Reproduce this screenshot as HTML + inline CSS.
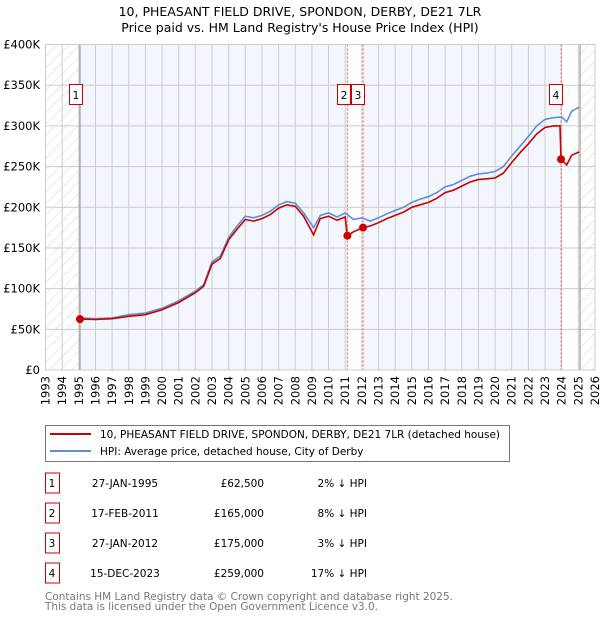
<!DOCTYPE html>
<html><head><meta charset="utf-8"><style>
body{margin:0;background:#fff;width:600px;height:620px;overflow:hidden;font-family:"DejaVu Sans","Liberation Sans",sans-serif;}
svg text{font-family:"DejaVu Sans","Liberation Sans",sans-serif;}
</style></head><body>
<svg id="chart" width="600" height="620" xmlns="http://www.w3.org/2000/svg">
<defs><pattern id="hatch" width="8" height="8" patternUnits="userSpaceOnUse" patternTransform="rotate(45)"><line x1="0" y1="0" x2="0" y2="8" stroke="#d4d4d4" stroke-width="1"/></pattern></defs>
<text x="300" y="16" text-anchor="middle" font-size="12.5">10, PHEASANT FIELD DRIVE, SPONDON, DERBY, DE21 7LR</text>
<text x="300" y="32" text-anchor="middle" font-size="12.5">Price paid vs. HM Land Registry's House Price Index (HPI)</text>
<g id="plot"></g>
<rect x="45.5" y="425.5" width="464" height="36" fill="#fff" stroke="#777"/>
<line x1="50" y1="434" x2="91" y2="434" stroke="#cc0000" stroke-width="2"/>
<text x="100" y="438" font-size="10.5" textLength="400" lengthAdjust="spacingAndGlyphs">10, PHEASANT FIELD DRIVE, SPONDON, DERBY, DE21 7LR (detached house)</text>
<line x1="50" y1="451" x2="91" y2="451" stroke="#5b8fd6" stroke-width="2"/>
<text x="100" y="455" font-size="10.5">HPI: Average price, detached house, City of Derby</text>
<g id="table" font-size="10.5"></g>
<text x="45" y="600" font-size="10.5" fill="#777" textLength="408" lengthAdjust="spacingAndGlyphs">Contains HM Land Registry data © Crown copyright and database right 2025.</text>
<text x="45" y="610" font-size="10.5" fill="#777" textLength="333" lengthAdjust="spacingAndGlyphs">This data is licensed under the Open Government Licence v3.0.</text>
</svg>
<script>
const hpiYears=[1995.07,1996,1997,1998,1999,2000,2001,2002,2002.5,2003,2003.5,2004,2004.5,2005,2005.5,2006,2006.5,2007,2007.5,2008,2008.5,2009.1,2009.5,2010,2010.5,2011,2011.5,2012,2012.5,2013,2013.5,2014,2014.5,2015,2015.5,2016,2016.5,2017,2017.5,2018,2018.5,2019,2019.5,2020,2020.5,2021,2021.5,2022,2022.5,2023,2023.5,2024,2024.3,2024.6,2025.05];
const hpiValues=[64,63,64,68,70,76,85,97,105,133,140,163,177,189,187,190,195,203,207,205,193,175,190,193,188,193,185,187,183,187,192,196,200,206,210,213,218,225,228,233,238,241,242,244,250,263,275,287,300,308,310,311,305,318,323];
const priceYears=[1995.07,1996,1997,1998,1999,2000,2001,2002,2002.5,2003,2003.5,2004,2004.5,2005,2005.5,2006,2006.5,2007,2007.5,2008,2008.5,2009.1,2009.5,2010,2010.5,2011,2011.13,2011.5,2012.07,2012.5,2013,2013.5,2014,2014.5,2015,2015.5,2016,2016.5,2017,2017.5,2018,2018.5,2019,2019.5,2020,2020.5,2021,2021.5,2022,2022.5,2023,2023.5,2023.9,2023.96,2024.3,2024.6,2025.05];
const priceValues=[62.5,62,63,66,68,74,83,95,103,130,137,160,173,185,183,186,191,199,203,201,189,166,186,189,184,188,165,170,175,177,181,186,190,194,200,203,206,211,218,221,226,231,234,235,236,242,255,267,278,290,298,300,300,259,252,264,268];
const saleLabels=["1","2","3","4"];
const saleYears=[1995.07,2011.13,2012.07,2023.96];
const saleValues=[62.5,165,175,259];
const saleDates=["27-JAN-1995","17-FEB-2011","27-JAN-2012","15-DEC-2023"];
const salePrices=["£62,500","£165,000","£175,000","£259,000"];
const saleHpi=["2% ↓ HPI","8% ↓ HPI","3% ↓ HPI","17% ↓ HPI"];
const yTicks=[0,50,100,150,200,250,300,350,400];
const yTickLabels=["£0","£50K","£100K","£150K","£200K","£250K","£300K","£350K","£400K"];
const xStart=1993,xEnd=2026;
const L=45.5,R=595,T=44.5,B=370;
const xs=v=>L+(v-xStart)/(xEnd-xStart)*(R-L);
const ys=v=>B-v/400*(B-T);
const NS="http://www.w3.org/2000/svg";
const plot=document.getElementById('plot');
function mk(tag,attrs,parent){const e=document.createElementNS(NS,tag);for(const k in attrs)e.setAttribute(k,attrs[k]);(parent||plot).appendChild(e);return e;}
let e;
e=mk('rect',{x:L,y:T,width:R-L,height:B-T,fill:'#f3f6fd'});


const bands=[[saleYears[1],saleYears[2]],[saleYears[3],2025.1]];
bands.forEach(b=>{e=mk('rect',{x:xs(b[0]),y:T,width:xs(b[1])-xs(b[0]),height:B-T,fill:'#fff'});

});
[[xStart,saleYears[0]],[2025.1,xEnd]].forEach(b=>{e=mk('rect',{x:xs(b[0]),y:T,width:xs(b[1])-xs(b[0]),height:B-T,fill:'#fff'});


e=mk('rect',{x:xs(b[0]),y:T,width:xs(b[1])-xs(b[0]),height:B-T,fill:'url(#hatch)'});

});
for(let yr=xStart;yr<=xEnd;yr++){e=mk('line',{x1:xs(yr),x2:xs(yr),y1:T,y2:B,stroke:'#ccc','stroke-width':1});


const t=mk('text',{x:0,y:0,transform:`translate(${xs(yr)+4},376) rotate(-90)`,'text-anchor':'end','font-size':11.5});
t.textContent=yr;

}
yTicks.forEach((v,i)=>{e=mk('line',{x1:L,x2:R,y1:ys(v),y2:ys(v),stroke:'#ccc','stroke-width':1});


const t=mk('text',{x:40,y:ys(v)+4,'text-anchor':'end','font-size':11.5});
t.textContent=yTickLabels[i];

});
[saleYears[0],2025.1].forEach(a=>{e=mk('line',{x1:xs(a),x2:xs(a),y1:T,y2:B,stroke:'#888','stroke-width':1});

});
saleYears.slice(1).forEach(y=>{e=mk('line',{x1:xs(y),x2:xs(y),y1:T,y2:B,stroke:'#e06060','stroke-width':1,'stroke-dasharray':'2,2'});

});
e=mk('path',{d:hpiYears.map((y,i)=>(i?'L':'M')+xs(y).toFixed(1)+','+ys(hpiValues[i]).toFixed(1)).join(''),fill:'none',stroke:'#5b8fd6','stroke-width':1.6});


e=mk('path',{d:priceYears.map((y,i)=>(i?'L':'M')+xs(y).toFixed(1)+','+ys(priceValues[i]).toFixed(1)).join(''),fill:'none',stroke:'#cc0000','stroke-width':1.6});


const boxOff=[-11,-10.5,-12,-12];
saleYears.forEach((y,i)=>{e=mk('circle',{cx:xs(y),cy:ys(saleValues[i]),r:4,fill:'#cc0000'});


const left=Math.round(xs(y)+boxOff[i]);
e=mk('rect',{x:left+0.5,y:84.5,width:13,height:20,fill:'#fff',stroke:'#cc0000'});


const t=mk('text',{x:left+7,y:99,'text-anchor':'middle','font-size':10.5});
t.textContent=saleLabels[i];

});
mk('rect',{x:L,y:T,width:R-L,height:B-T,fill:'none',stroke:'#ccc'});
const table=document.getElementById('table');
saleLabels.forEach((s,i)=>{const cy=483+i*30;
e=mk('rect',{x:45.5,y:cy-10,width:14,height:20,fill:'#fff',stroke:'#cc0000'},table);


const cells=[[s,52,'middle'],[saleDates[i],125,'middle'],[salePrices[i],264,'end'],[saleHpi[i],367,'end']];
const names=['table-index','table-date','table-price','table-hpi-diff'];
cells.forEach((c,j)=>{const t=mk('text',{x:c[1],y:cy+4,'text-anchor':c[2]},table);t.textContent=c[0];

});});
</script>
</body></html>
